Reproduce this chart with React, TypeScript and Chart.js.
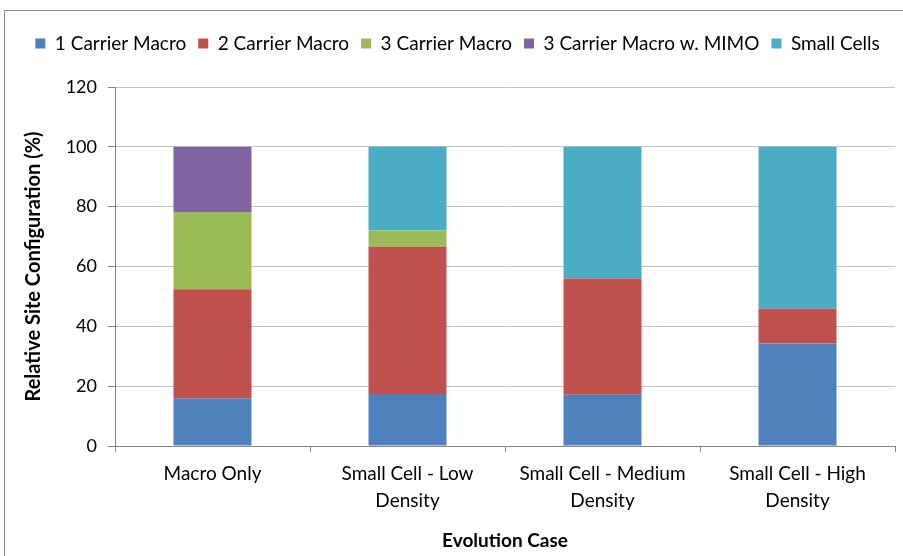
import React, { useEffect, useRef } from "react";
import { Chart, registerables } from "chart.js";

Chart.register(...registerables);

const categories: string[][] = [
  ["Macro Only"],
  ["Small Cell - Low", "Density"],
  ["Small Cell - Medium", "Density"],
  ["Small Cell - High", "Density"],
];

const seriesNames = [
  "1 Carrier Macro",
  "2 Carrier Macro",
  "3 Carrier Macro",
  "3 Carrier Macro w. MIMO",
  "Small Cells",
];

const carrier1 = [16, 17.4, 17.1, 34.3];
const carrier2 = [36.4, 49.2, 38.9, 11.6];
const carrier3 = [25.8, 5.4, 0, 0];
const carrier3Mimo = [21.8, 0, 0, 0];
const smallCells = [0, 28, 44, 54.1];

const seriesColors = ["#4F81BD", "#C0504D", "#9BBB59", "#8064A2", "#4BACC6"];

const yMin = 0;
const yMax = 120;
const yStep = 20;

const FONT = "Lato, 'Liberation Sans', sans-serif";

export default function App() {
  const ref = useRef<HTMLCanvasElement | null>(null);

  useEffect(() => {
    if (!ref.current) return;
    const values = [carrier1, carrier2, carrier3, carrier3Mimo, smallCells];
    const legendHeight = {
      id: "legendHeight",
      beforeInit(chart: any) {
        const lg = chart.legend;
        if (lg) {
          const orig = lg.fit;
          lg.fit = function () {
            orig.call(this);
            this.height = 65;
          };
        }
      },
    };
    const chart = new Chart(ref.current, {
      type: "bar",
      data: {
        labels: categories,
        datasets: seriesNames.map((name, i) => ({
          label: name,
          data: values[i],
          backgroundColor: seriesColors[i],
          borderWidth: 0,
          categoryPercentage: 0.8,
          barPercentage: 0.5,
        })),
      },
      options: {
        responsive: false,
        animation: false,
        layout: { padding: { top: 22, left: 20, right: 8, bottom: 4 } },
        plugins: {
          tooltip: { enabled: false },
          legend: {
            position: "top",
            labels: {
              boxWidth: 10,
              boxHeight: 10,
              padding: 12,
              color: "#000",
              font: { family: FONT, size: 19 },
            },
          },
        },
        scales: {
          x: {
            stacked: true,
            offset: true,
            grid: {
              display: true,
              drawOnChartArea: false,
              drawTicks: true,
              tickLength: 6,
              offset: true,
              color: "#868686",
              tickColor: "#868686",
            },
            border: { display: true, color: "#868686", width: 1 },
            ticks: {
              color: "#000",
              padding: 9,
              maxRotation: 0,
              autoSkip: false,
              font: { family: FONT, size: 19, lineHeight: 1.4 },
            },
            title: {
              display: true,
              text: "Evolution Case",
              color: "#000",
              padding: { top: 0, bottom: 0 },
              font: { family: FONT, size: 19, weight: "bold" },
            },
            afterFit(scale: any) {
              scale.height = 106;
            },
          },
          y: {
            stacked: true,
            min: yMin,
            max: yMax,
            ticks: {
              stepSize: yStep,
              color: "#000",
              padding: 11,
              font: { family: FONT, size: 18 },
            },
            grid: {
              color: "#C4C4C4",
              tickColor: "#868686",
              tickLength: 7,
              lineWidth: 1,
            },
            border: { display: true, color: "#868686", width: 1 },
            title: {
              display: true,
              text: "Relative Site Configuration (%)",
              color: "#000",
              padding: { top: 2, bottom: 0 },
              font: { family: FONT, size: 20, weight: "bold" },
            },
            afterFit(scale: any) {
              scale.width = 95;
            },
          },
        },
      },
      plugins: [legendHeight],
    });
    return () => chart.destroy();
  }, []);

  return (
    <div
      style={{
        position: "fixed",
        left: 0,
        top: 0,
        width: 903,
        height: 556,
        overflow: "hidden",
        background: "#fff",
      }}
    >
      <div
        style={{
          position: "absolute",
          left: 4,
          top: 10,
          width: 960,
          height: 620,
          border: "1px solid #8c8c8c",
        }}
      />
      <canvas
        ref={ref}
        width={903}
        height={556}
        style={{ position: "absolute", left: 0, top: 0, width: 903, height: 556 }}
      />
    </div>
  );
}
